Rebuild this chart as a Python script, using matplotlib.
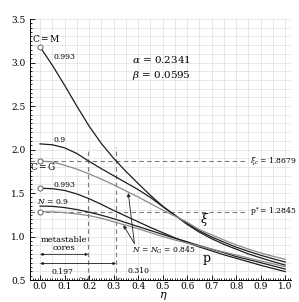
import numpy as np
import matplotlib
matplotlib.use('Agg')
import matplotlib.pyplot as plt
from matplotlib.ticker import MultipleLocator

plt.rcParams.update({
    'font.family': 'DejaVu Serif',
    'mathtext.fontset': 'dejavuserif',
    'font.size': 6.5,
})

# --- data ---
eta = [0.0, 0.05, 0.1, 0.15, 0.2, 0.25, 0.3, 0.35, 0.4, 0.45, 0.5,
       0.55, 0.6, 0.65, 0.7, 0.75, 0.8, 0.85, 0.9, 0.95, 1.0]

xi_993 = [3.18, 2.97, 2.74, 2.50, 2.27, 2.07, 1.90, 1.75, 1.61, 1.475, 1.35,
          1.245, 1.14, 1.05, 0.975, 0.91, 0.855, 0.80, 0.755, 0.712, 0.672]
xi_09 = [2.065, 2.055, 2.02, 1.955, 1.865, 1.78, 1.70, 1.62, 1.54, 1.45, 1.345,
         1.245, 1.15, 1.065, 0.995, 0.935, 0.878, 0.83, 0.785, 0.745, 0.707]
xi_G = [1.868, 1.858, 1.82, 1.775, 1.72, 1.66, 1.595, 1.525, 1.455, 1.38, 1.305,
        1.235, 1.165, 1.08, 1.02, 0.96, 0.905, 0.855, 0.812, 0.773, 0.738]

p_993 = [1.555, 1.55, 1.53, 1.49, 1.435, 1.37, 1.30, 1.235, 1.17, 1.105, 1.045,
         0.985, 0.93, 0.88, 0.835, 0.79, 0.75, 0.71, 0.67, 0.633, 0.597]
p_09 = [1.35, 1.347, 1.333, 1.31, 1.281, 1.245, 1.205, 1.16, 1.115, 1.07, 1.025,
        0.98, 0.94, 0.895, 0.855, 0.815, 0.77, 0.735, 0.70, 0.663, 0.626]
p_G = [1.2845, 1.283, 1.275, 1.26, 1.24, 1.21, 1.17, 1.13, 1.09, 1.045, 1.0,
       0.96, 0.925, 0.89, 0.855, 0.822, 0.788, 0.753, 0.72, 0.687, 0.653]

xi_c = 1.8679
p_star = 1.2845
eta_lo, eta_hi = 0.197, 0.310
alpha, beta = 0.2341, 0.0595
N_G = 0.845

dark = '#1e1e1e'
grey = '#8a8a8a'

fig = plt.figure(figsize=(2.99, 3.02), dpi=100)
ax = fig.add_axes([0.1003, 0.0728, 0.873, 0.864])

# grid
ax.set_xlim(-0.041, 1.024)
ax.set_ylim(0.5, 3.5)
for gx in np.arange(0.0, 1.03, 0.05):
    ax.axvline(gx, color='#e4e4e4', lw=0.6, zorder=0)
for gy in np.arange(0.6, 3.51, 0.1):
    ax.axhline(gy, color='#e4e4e4', lw=0.6, zorder=0)

# dashed reference lines
dash = dict(color='#7a7a7a', lw=0.8, ls=(0, (4, 3)), zorder=1)
ax.plot([-0.041, 0.845], [xi_c, xi_c], **dash)
ax.plot([-0.041, 0.845], [p_star, p_star], **dash)
ax.plot([eta_lo, eta_lo], [0.5, 2.0], **dash)
ax.plot([eta_hi, eta_hi], [0.5, 2.03], **dash)

# curves
ax.plot(eta, xi_993, color=dark, lw=0.9, zorder=3)
ax.plot(eta, xi_09, color=dark, lw=0.9, zorder=3)
ax.plot(eta, xi_G, color=grey, lw=0.9, zorder=3)
ax.plot(eta, p_993, color=dark, lw=0.9, zorder=3)
ax.plot(eta, p_09, color=dark, lw=0.9, zorder=3)
ax.plot(eta, p_G, color=grey, lw=0.9, zorder=3)

# open circles at the starting points
for s in (xi_993, xi_G, p_993, p_G):
    ax.plot(eta[0], s[0], 'o', ms=3.6, mfc='white', mec='#707070', mew=0.8, zorder=4)

# labels on curves
ax.text(-0.034, 3.28, 'C$\\,$=$\\,$M', fontsize=6.5, va='center')
ax.text(0.053, 3.06, '0.993', fontsize=5.5, va='center')
ax.text(0.055, 2.11, '0.9', fontsize=5.5, va='center')
ax.text(-0.040, 1.80, 'C$\\,$=$\\,$G', fontsize=6.5, va='center')
ax.text(0.055, 1.59, '0.993', fontsize=5.5, va='center')
ax.text(-0.012, 1.40, '$N$ = 0.9', fontsize=5.5, va='center')

ax.text(0.375, 3.04, f'$\\alpha$ = {alpha}', fontsize=7.5, va='center')
ax.text(0.375, 2.85, f'$\\beta$ = {beta}', fontsize=7.5, va='center')

ax.text(0.673, 1.20, '$\\xi$', fontsize=9, ha='center', va='center')
ax.text(0.678, 0.745, 'p', fontsize=9, ha='center', va='center')

ax.text(0.857, xi_c, '$\\xi_c$ = 1.8679', fontsize=5.5, va='center', clip_on=False)
ax.text(0.857, p_star, 'p$^*$= 1.2845', fontsize=5.5, va='center', clip_on=False)

# N = N_G pointers
ax.text(0.375, 0.845, f'$N$ = $N_G$ = {N_G}', fontsize=5.5, va='center')
for tip in [(0.36, 1.50), (0.34, 1.13)]:
    ax.annotate('', xy=tip, xytext=(0.385, 0.92),
                arrowprops=dict(arrowstyle='-|>', lw=0.6, color=dark,
                                mutation_scale=5, shrinkA=0, shrinkB=0))

# metastable cores
ax.text(0.097, 0.915, 'metastable\ncores', fontsize=6, ha='center', va='center',
        linespacing=1.1)
for xe, ye in [(eta_lo, 0.795), (eta_hi, 0.69)]:
    ax.annotate('', xy=(0.0, ye), xytext=(xe, ye),
                arrowprops=dict(arrowstyle='<|-|>', lw=0.6, color=dark,
                                mutation_scale=4, shrinkA=0, shrinkB=0))

ax.annotate(f'{eta_lo:.3f}', xy=(eta_lo, 0.5), xytext=(0.09, 0.59),
            fontsize=5.5, ha='center', va='center',
            arrowprops=dict(arrowstyle='-', lw=0.5, color='#555555',
                            shrinkA=3, shrinkB=0))
ax.annotate(f'{eta_hi:.3f}', xy=(eta_hi, 0.5), xytext=(0.40, 0.598),
            fontsize=5.5, ha='center', va='center',
            arrowprops=dict(arrowstyle='-', lw=0.5, color='#555555',
                            shrinkA=3, shrinkB=0))

# axes
ax.set_xticks(np.arange(0.0, 1.01, 0.1))
ax.set_xticklabels([f'{v:.1f}' for v in np.arange(0.0, 1.01, 0.1)])
ax.xaxis.set_minor_locator(MultipleLocator(0.01))
ax.set_yticks(np.arange(0.5, 3.51, 0.5))
ax.set_yticklabels([f'{v:.1f}' for v in np.arange(0.5, 3.51, 0.5)])
ax.yaxis.set_minor_locator(MultipleLocator(0.05))
ax.tick_params(which='both', direction='in', labelsize=6.5, width=0.6)
ax.tick_params(which='major', length=3.5)
ax.tick_params(axis='x', which='major', pad=1.5)
ax.tick_params(axis='y', which='major', pad=3)
ax.tick_params(which='minor', length=1.5)
ax.spines['top'].set_visible(False)
ax.spines['right'].set_visible(False)
ax.spines['left'].set_linewidth(0.7)
ax.spines['bottom'].set_linewidth(0.7)
fig.text(0.545, 0.0, '$\\eta$', fontsize=8, ha='center', va='bottom')

fig.savefig('out.png', dpi=100)
